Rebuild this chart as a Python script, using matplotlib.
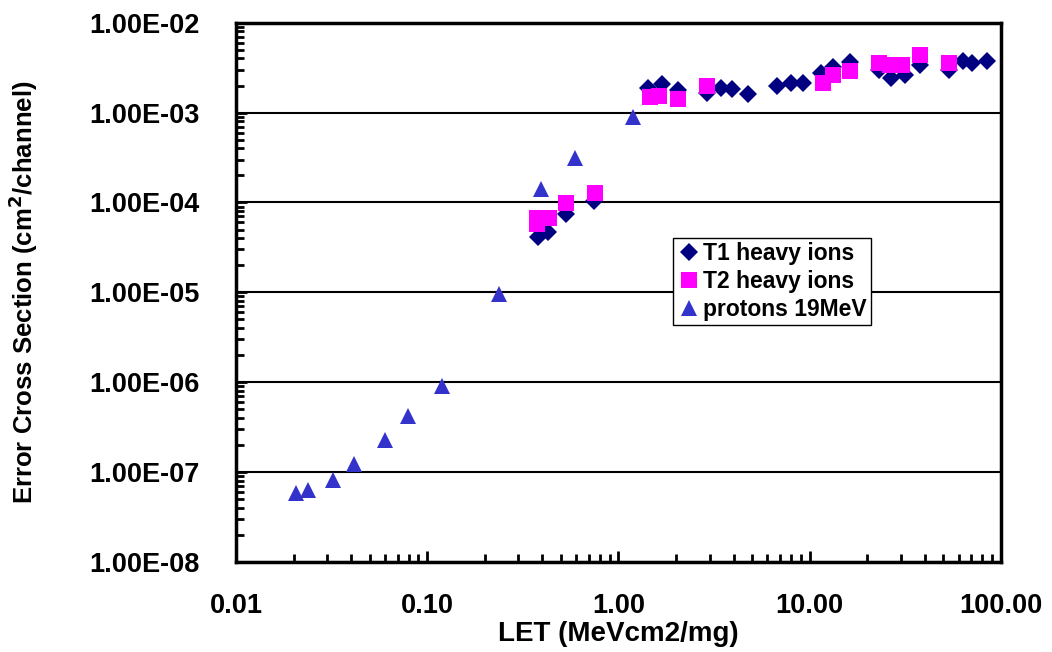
import matplotlib
matplotlib.use('Agg')
import matplotlib.pyplot as plt
from matplotlib.ticker import LogLocator, FixedLocator, FixedFormatter, NullFormatter

plt.rcParams['font.family'] = ['Liberation Sans', 'DejaVu Sans']
plt.rcParams['font.weight'] = 'bold'

# ---- Data -------------------------------------------------
t1_let = [0.381, 0.430, 0.530, 0.747, 1.43, 1.68, 2.05, 2.89, 3.42, 3.94, 4.77,
          6.71, 7.95, 9.25, 11.4, 13.2, 16.2, 23.0, 26.5, 31.5, 37.7, 53.4,
          63.0, 70.3, 84.8]
t1_xs = [4.14e-5, 4.71e-5, 7.41e-5, 1.03e-4, 1.86e-3, 2.07e-3, 1.78e-3, 1.64e-3,
         1.86e-3, 1.83e-3, 1.61e-3, 1.99e-3, 2.15e-3, 2.11e-3, 2.73e-3, 3.23e-3,
         3.68e-3, 2.97e-3, 2.40e-3, 2.62e-3, 3.38e-3, 2.97e-3, 3.78e-3, 3.59e-3,
         3.78e-3]

t2_let = [0.377, 0.377, 0.433, 0.530, 0.754, 1.46, 1.63, 2.04, 2.89, 11.7, 13.2,
          16.2, 23.0, 26.3, 30.3, 37.7, 53.4]
t2_xs = [6.78e-5, 5.73e-5, 6.78e-5, 9.75e-5, 1.29e-4, 1.50e-3, 1.53e-3, 1.40e-3,
         1.99e-3, 2.15e-3, 2.62e-3, 2.90e-3, 3.59e-3, 3.38e-3, 3.38e-3, 4.36e-3,
         3.53e-3]

p_let = [0.0206, 0.0239, 0.0321, 0.0412, 0.0604, 0.0796, 0.119, 0.236, 0.395,
         0.593, 1.19]
p_xs = [5.9e-8, 6.4e-8, 8.2e-8, 1.24e-7, 2.3e-7, 4.2e-7, 9.2e-7, 9.5e-6, 1.40e-4,
        3.1e-4, 9.0e-4]

x_ticks = [0.01, 0.1, 1, 10, 100]
x_labels = ['0.01', '0.10', '1.00', '10.00', '100.00']
y_ticks = [1e-8, 1e-7, 1e-6, 1e-5, 1e-4, 1e-3, 1e-2]
y_labels = ['1.00E-08', '1.00E-07', '1.00E-06', '1.00E-05', '1.00E-04',
            '1.00E-03', '1.00E-02']

# ---- Figure -----------------------------------------------
fig = plt.figure(figsize=(10.52, 6.52), dpi=100)
ax = fig.add_axes([0.2243, 0.138, 0.7272, 0.8272])

ax.plot(t1_let, t1_xs, 'D', color='#000080', ms=9, mew=0, label='T1 heavy ions', zorder=3)
ax.plot(t2_let, t2_xs, 's', color='#FF00FF', ms=11, mew=0, label='T2 heavy ions', zorder=4)
ax.plot(p_let, p_xs, '^', color='#3333CC', ms=12, mew=0, label='protons 19MeV', zorder=5)

ax.set_xscale('log')
ax.set_yscale('log')
ax.set_xlim(0.01, 100)
ax.set_ylim(1e-8, 1e-2)

ax.xaxis.set_major_locator(FixedLocator(x_ticks))
ax.xaxis.set_major_formatter(FixedFormatter(x_labels))
ax.yaxis.set_major_locator(FixedLocator(y_ticks))
ax.yaxis.set_major_formatter(FixedFormatter(y_labels))
ax.xaxis.set_minor_locator(LogLocator(base=10, subs=range(2, 10), numticks=20))
ax.yaxis.set_minor_locator(LogLocator(base=10, subs=range(2, 10), numticks=20))
ax.xaxis.set_minor_formatter(NullFormatter())
ax.yaxis.set_minor_formatter(NullFormatter())

ax.tick_params(which='major', direction='in', length=8, width=2, labelsize=19.5)
ax.tick_params(which='minor', direction='in', length=6, width=2)
ax.tick_params(axis='y', pad=26)
ax.tick_params(axis='x', pad=22)

ax.grid(axis='y', which='major', color='black', lw=1.5)
for s in ax.spines.values():
    s.set_linewidth(2.5)

ax.set_xlabel('LET (MeVcm2/mg)', fontsize=20, fontweight='bold')
ax.xaxis.set_label_coords(0.5, -0.11)
ax.set_ylabel('Error Cross Section (cm$^\\mathbf{2}$/channel)', fontsize=18.5,
              fontweight='bold')
ax.yaxis.set_label_coords(-0.256, 0.5)

leg = ax.legend(loc='upper left', bbox_to_anchor=(0.571, 0.601), borderaxespad=0,
                fancybox=False, framealpha=1, edgecolor='black',
                prop={'size': 16.5, 'weight': 'bold'}, handletextpad=0.1,
                handlelength=1.0, borderpad=0.2, labelspacing=0.2)
leg.get_frame().set_linewidth(1.0)

fig.savefig('out.png', dpi=100)
